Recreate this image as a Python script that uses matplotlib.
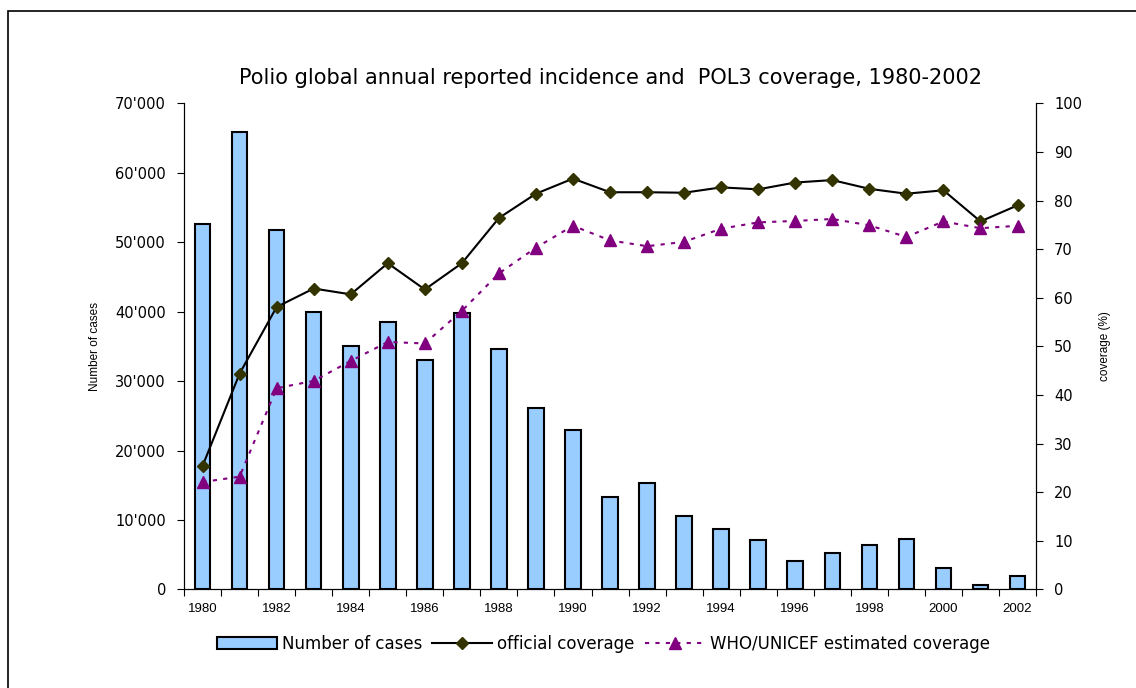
import numpy as np
import matplotlib
matplotlib.use('Agg')
import matplotlib.pyplot as plt
from matplotlib.ticker import FuncFormatter
from matplotlib.patches import Rectangle

# data
years = list(range(1980, 2003))
cases = [52600, 65800, 51700, 40000, 35100, 38500, 33000, 39800, 34600,
         26100, 23000, 13300, 15400, 10600, 8750, 7100, 4100, 5300, 6400,
         7200, 3100, 600, 2000]
official = [25.4, 44.4, 58.1, 61.9, 60.7, 67.1, 61.7, 67.1, 76.4,
            81.4, 84.5, 81.7, 81.7, 81.6, 82.7, 82.3, 83.7, 84.2, 82.4,
            81.4, 82.1, 75.7, 79.0]
who_unicef = [22.1, 23.2, 41.4, 42.9, 47.0, 50.9, 50.6, 57.3, 65.0,
              70.3, 74.8, 71.8, 70.6, 71.5, 74.2, 75.5, 75.8, 76.2, 74.9,
              72.5, 75.7, 74.3, 74.8]

plt.rcParams['font.family'] = ['Liberation Sans', 'DejaVu Sans']
wide = 'DejaVu Sans'  # the original text is letter-spaced, this one is wider

fig = plt.figure(figsize=(11.36, 6.88), dpi=100)
# outer frame like the pasted chart
fig.patches.append(Rectangle((8/1136, -0.01), 1.1, 1 - 11/688 + 0.01,
                             transform=fig.transFigure, fill=False,
                             edgecolor='black', linewidth=1.2))

ax = fig.add_axes([0.162, 0.1432, 0.75, 0.7067])
x = np.arange(len(years))

bars = ax.bar(x, cases, width=0.42, color='#99CCFF', edgecolor='black',
              linewidth=1.5, label='Number of cases', zorder=2)
ax.set_xlim(-0.5, len(years) - 0.5)
ax.set_ylim(0, 70000)
ax.set_yticks(np.arange(0, 70001, 10000))
ax.yaxis.set_major_formatter(FuncFormatter(
    lambda v, p: '0' if v == 0 else "%d'%03d" % (v // 1000, v % 1000)))
ax.set_ylabel('Number of cases', fontsize=8.5, labelpad=10)

# ticks on the category boundaries, labels on every other year
ax.set_xticks(np.arange(-0.5, len(years), 1))
ax.set_xticklabels([])
ax.set_xticks(x[::2], minor=True)
ax.set_xticklabels([str(y) for y in years[::2]], minor=True, fontsize=9.5)
ax.tick_params(axis='x', which='minor', length=0, pad=10)
ax.tick_params(axis='x', which='major', length=5, direction='out')
ax.tick_params(axis='y', length=5, pad=8)
for t in ax.get_yticklabels():
    t.set_fontfamily(wide)
    t.set_fontsize(10.5)
ax.spines['top'].set_visible(False)

ax2 = ax.twinx()
l1, = ax2.plot(x, official, color='black', linewidth=1.5, marker='D',
               markersize=6.5, markerfacecolor='#333300',
               markeredgecolor='#333300', label='official coverage', zorder=3)
l2, = ax2.plot(x, who_unicef, color='#800080', linewidth=1.5,
               linestyle=(0, (2, 3)), marker='^', markersize=8,
               markerfacecolor='#800080', markeredgecolor='#800080',
               label='WHO/UNICEF estimated coverage', zorder=3)
ax2.set_ylim(0, 100)
ax2.set_yticks(np.arange(0, 101, 10))
ax2.tick_params(axis='y', length=5, pad=8)
for t in ax2.get_yticklabels():
    t.set_fontfamily(wide)
    t.set_fontsize(10.5)
ax2.set_ylabel('coverage (%)', fontsize=8.5, labelpad=12)
ax2.spines['top'].set_visible(False)

ax.set_title('Polio global annual reported incidence and  POL3 coverage, 1980-2002',
             fontsize=15, pad=14, fontfamily=wide)

fig.legend([bars, l1, l2],
           ['Number of cases', 'official coverage', 'WHO/UNICEF estimated coverage'],
           loc='center', bbox_to_anchor=(0.531, 0.064), ncol=3, frameon=False,
           prop={'family': wide, 'size': 12}, handlelength=3.6,
           columnspacing=0.6, handletextpad=0.3)

plt.savefig('out.png', dpi=100)
